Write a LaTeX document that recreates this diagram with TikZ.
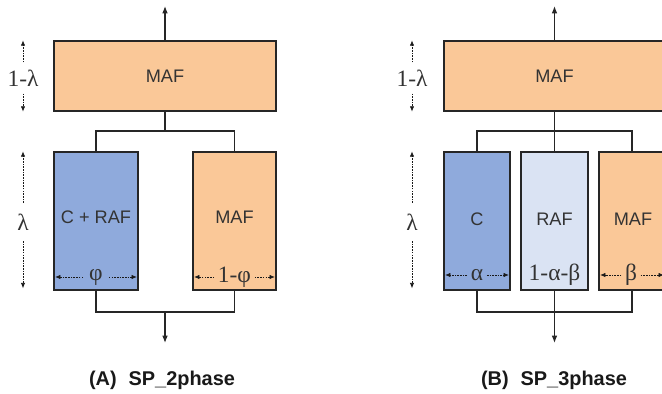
\documentclass[tikz,border=0pt]{standalone}
\usepackage{fontspec}
\setmainfont{Liberation Sans}
\newfontfamily\grk{Liberation Serif}
\usetikzlibrary{arrows.meta}
\definecolor{orng}{HTML}{FAC898}
\definecolor{blu}{HTML}{8FAADC}
\definecolor{lblu}{HTML}{DAE3F3}
\tikzset{
  box/.style={draw=black!85, line width=1.1pt, inner sep=0pt},
  conn/.style={draw=black!85, line width=1pt},
  arr/.style={conn, -{Latex[length=2.2mm,width=1.7mm]}},
  dimarr/.style={draw=black!90, line width=0.6pt, dash pattern=on 1.4pt off 0.9pt, -{Latex[length=1.6mm,width=1.3mm]}},
  lbl/.style={font=\fontsize{15.5}{18}\selectfont, text=black!80, inner sep=0pt},
  glbl/.style={font=\grk\fontsize{20}{22}\selectfont, text=black!80, inner sep=3pt},
  ttl/.style={font=\bfseries\fontsize{17}{20}\selectfont, text=black!90}
}
\begin{document}
\begin{tikzpicture}[x=0.03cm, y=-0.03cm]
\useasboundingbox (0,0) rectangle (662,394);
% ---------- Panel A ----------
\node[box, fill=orng, minimum width=6.66cm, minimum height=2.1cm] (mafA) at (165,76) {};
\node[lbl] (mafAt) at (165,76) {MAF};
\node[box, fill=blu, minimum width=2.52cm, minimum height=4.14cm] (crA) at (96,221) {};
\node[box, fill=orng, minimum width=2.49cm, minimum height=4.14cm] (mA) at (234.5,221) {};
\node[lbl] (crAt) at (96,217) {C + RAF};
\node[lbl] (mAt) at (234.5,217) {MAF};
\node[glbl, inner sep=5pt] (phiA) at (96,277) {φ};
\node[glbl] (ophiA) at (234.5,277) {1-φ};
\draw[dimarr] (phiA.west) -- ([xshift=1.5pt]phiA.west -| crA.west);
\draw[dimarr] (phiA.east) -- ([xshift=-1.5pt]phiA.east -| crA.east);
\draw[dimarr] (ophiA.west) -- ([xshift=1.5pt]ophiA.west -| mA.west);
\draw[dimarr] (ophiA.east) -- ([xshift=-1.5pt]ophiA.east -| mA.east);
\coordinate (inA) at (165,6);
\coordinate (jA) at (165,131);
\coordinate (kA) at (165,312);
\coordinate (outA) at (165,343);
\draw[arr] (mafA.north) -- (inA);
\draw[conn] (mafA.south) -- (jA);
\draw[conn] (crA.north) |- (jA) -| (mA.north);
\draw[conn] (crA.south) |- (kA) -| (mA.south);
\draw[arr] (kA) -- (outA);
\node[glbl, inner sep=6pt] (lamA) at (23,78) {1-λ};
\draw[dimarr] (lamA.north) -- (lamA.north |- mafA.north);
\draw[dimarr] (lamA.south) -- (lamA.south |- mafA.south);
\node[glbl, inner sep=9pt] (lA) at (23,222) {λ};
\draw[dimarr] (lA.north) -- (lA.north |- crA.north);
\draw[dimarr] (lA.south) -- ([yshift=2pt]lA.south |- crA.south);
\node[ttl] (tA) at (162,380) {(A)\hspace{0.6em}SP\_2phase};
% ---------- Panel B ----------
\node[box, fill=orng, minimum width=6.63cm, minimum height=2.1cm] (mafB) at (554.5,76) {};
\node[lbl] (mafBt) at (554.5,76) {MAF};
\node[box, fill=blu, minimum width=1.98cm, minimum height=4.14cm] (cB) at (477,221) {};
\node[box, fill=lblu, minimum width=2.01cm, minimum height=4.14cm] (rB) at (554.5,221) {};
\node[box, fill=orng, minimum width=1.98cm, minimum height=4.14cm] (mB) at (632,221) {};
\node[lbl] (cBt) at (477,219) {C};
\node[lbl] (rBt) at (554.5,219) {RAF};
\node[lbl] (mBt) at (633,219) {MAF};
\node[glbl] (alB) at (477,275) {α};
\node[glbl] (abB) at (554.5,275) {1-α-β};
\node[glbl] (beB) at (631,275) {β};
\draw[dimarr] (alB.west) -- ([xshift=1.5pt]alB.west -| cB.west);
\draw[dimarr] (alB.east) -- ([xshift=-1.5pt]alB.east -| cB.east);
\draw[dimarr] (beB.west) -- ([xshift=1.5pt]beB.west -| mB.west);
\draw[dimarr] (beB.east) -- ([xshift=-1.5pt]beB.east -| mB.east);
\coordinate (inB) at (554.5,6);
\coordinate (jB) at (554.5,131);
\coordinate (kB) at (554.5,312);
\coordinate (outB) at (554.5,343);
\draw[arr] (mafB.north) -- (inB);
\draw[conn] (mafB.south) -- (rB.north);
\draw[conn] (cB.north) |- (jB) -| (mB.north);
\draw[conn] (cB.south) |- (kB) -| (mB.south);
\draw[arr] (rB.south) -- (outB);
\node[glbl, inner sep=6pt] (lamB) at (412,78) {1-λ};
\draw[dimarr] (lamB.north) -- (lamB.north |- mafB.north);
\draw[dimarr] (lamB.south) -- (lamB.south |- mafB.south);
\node[glbl, inner sep=9pt] (lB) at (412,222) {λ};
\draw[dimarr] (lB.north) -- (lB.north |- cB.north);
\draw[dimarr] (lB.south) -- ([yshift=2pt]lB.south |- cB.south);
\node[ttl] (tB) at (554,380) {(B)\hspace{0.6em}SP\_3phase};
\end{tikzpicture}
\end{document}
